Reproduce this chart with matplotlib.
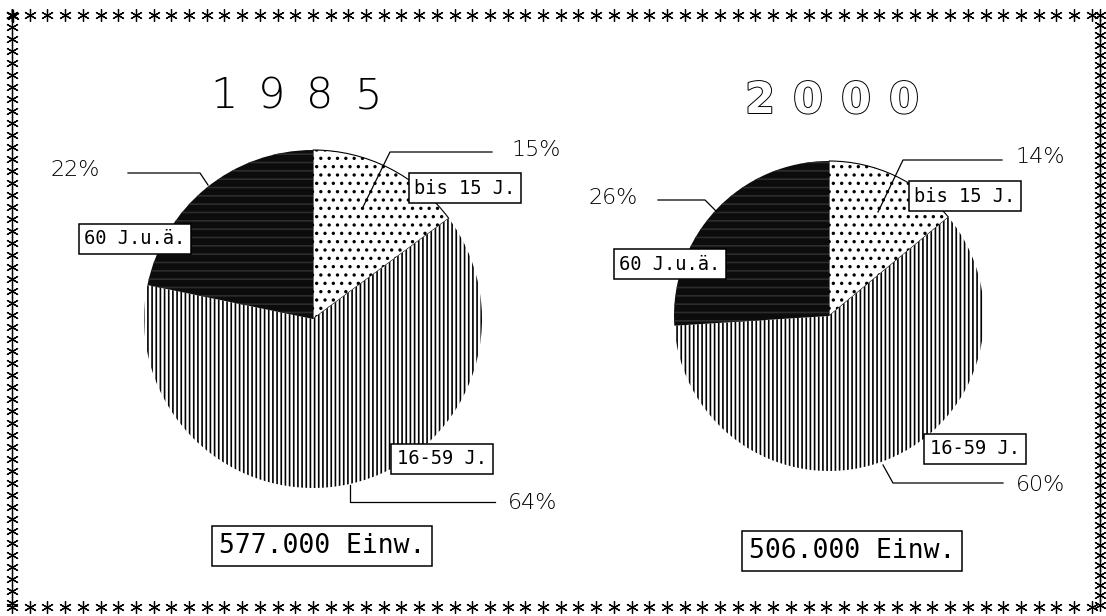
import matplotlib
matplotlib.use('Agg')
import matplotlib.pyplot as plt
import matplotlib.patheffects as pe
import numpy as np

W, H = 1106, 616

years = ['1985', '2000']
groups = ['bis 15 J.', '16-59 J.', '60 J.u.ä.']
shares_1985 = [15, 64, 22]
shares_2000 = [14, 60, 26]
inhabitants = ['577.000 Einw.', '506.000 Einw.']

plt.rcParams['hatch.linewidth'] = 1.2

fig = plt.figure(figsize=(W / 100, H / 100), dpi=100)
ax = fig.add_axes([0, 0, 1, 1])

# pixel layout, y grows downwards
centers = [(313, 319), (829, 316)]
radii = [169, 155]
title_pos = [(296, 96), (832, 101)]
pct_pos = [[(536, 150), (533, 503), (75, 170)],
           [(1040, 157), (1041, 485), (613, 198)]]
box_pos = [[(465, 188), (442, 459), (135, 239)],
           [(965, 196), (975, 449), (670, 264)]]
leaders = [[[(492, 152), (390, 152), (363, 207)],
            [(495, 502), (350, 502), (350, 485)],
            [(128, 173), (200, 173), (208, 185)]],
           [[(1002, 160), (903, 160), (878, 212)],
            [(1003, 483), (893, 483), (883, 465)],
            [(658, 200), (705, 200), (717, 212)]]]
total_pos = [(322, 546), (852, 551)]

faces = ['white', 'white', '#0c0c0c']
hatches = ['..', '||||', '--']
hatch_cols = ['black', 'black', '#2c2c2c']

thin = dict(family='DejaVu Sans', fontweight='light')
mono = dict(family='DejaVu Sans Mono')

for k, shares in enumerate([shares_1985, shares_2000]):
    wedges, _ = ax.pie(shares, center=centers[k], radius=radii[k],
                       startangle=-90, counterclock=True, colors=faces,
                       hatch=hatches, wedgeprops=dict(linewidth=0),
                       frame=True)
    for w, hc in zip(wedges, hatch_cols):
        w.set_edgecolor(hc)
    wedges[0].set_linewidth(0.8)

    for (px, py), v in zip(pct_pos[k], shares):
        ax.text(px, py, f'{v}%', ha='center', va='center', fontsize=16,
                color='black', **thin)
    for (bx, by), g in zip(box_pos[k], groups):
        ax.text(bx, by, g, ha='center', va='center', fontsize=13.5,
                zorder=5, **mono,
                bbox=dict(boxstyle='square,pad=0.3', fc='white', ec='black', lw=1.1))
    for line in leaders[k]:
        xs, ys = zip(*line)
        ax.plot(xs, ys, color='black', lw=0.9, zorder=4)

    tx, ty = total_pos[k]
    ax.text(tx, ty, inhabitants[k], ha='center', va='center', fontsize=19,
            zorder=5, **mono,
            bbox=dict(boxstyle='square,pad=0.25', fc='white', ec='black', lw=1.1))

    # spaced-out year headline
    cx, cy = title_pos[k]
    pitch = 48
    for i, ch in enumerate(years[k]):
        x = cx + (i - 1.5) * pitch
        if k == 0:
            ax.text(x, cy, ch, ha='center', va='center', fontsize=31,
                    color='black', **thin)
        else:
            ax.text(x, cy, ch, ha='center', va='center', fontsize=31,
                    fontweight='bold', family='DejaVu Sans', color='white',
                    path_effects=[pe.Stroke(linewidth=1.4, foreground='black'),
                                  pe.Normal()])

# asterisk frame
star = dict(marker=(6, 2, 0), color='black', linestyle='none',
            markersize=9, markeredgewidth=0.9)
top_x = np.arange(12, 1102, 17.7)
ax.plot(top_x, np.full(len(top_x), 15), **star)
ax.plot(top_x, np.full(len(top_x), 607), **star)
left_y = np.arange(15, 607, 12)
ax.plot(np.full(len(left_y), 12), left_y, **star)
right_y = np.arange(15, 607, 10)
ax.plot(np.full(len(right_y), 1100), right_y, **star)
ax.plot([12, 13], [15, 16], **star)

ax.set_xlim(0, W)
ax.set_ylim(H, 0)
ax.set_aspect('equal')
ax.set_axis_off()

fig.savefig('out.png', dpi=100, facecolor='white')
